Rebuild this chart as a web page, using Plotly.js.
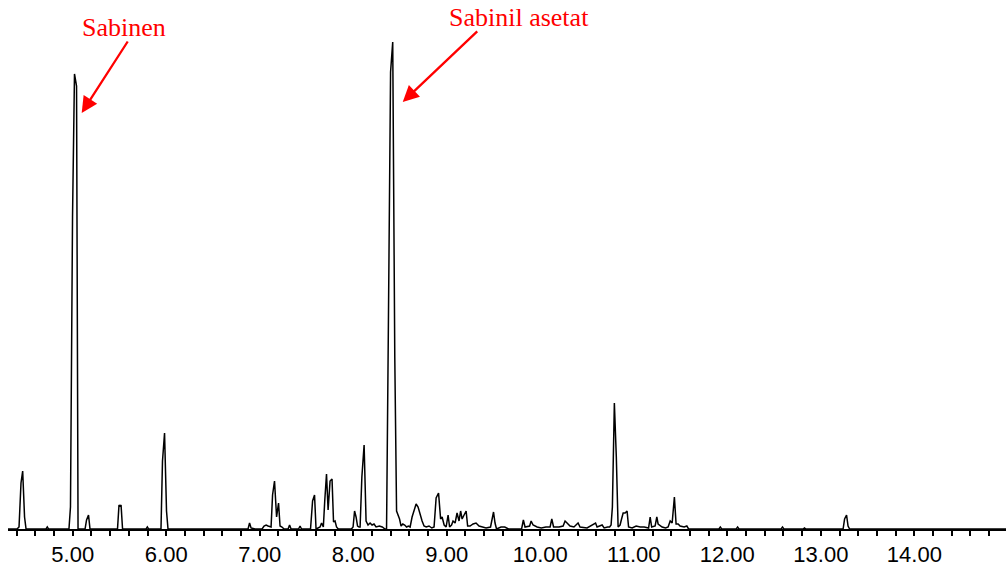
<!DOCTYPE html>
<html>
<head>
<meta charset="utf-8">
<script src="https://cdn.plot.ly/plotly-3.0.1.min.js"></script>
<style>html,body{margin:0;padding:0;background:#fff;}#chart{width:1006px;height:566px;}</style>
</head>
<body>
<div id="chart"></div>
<script>
// Retention time (min)
const retentionTime = [
4.308,4.404,4.426,4.447,4.465,4.485,4.501,4.715,4.728,4.741,
4.960,4.976,4.998,5.019,5.041,5.057,5.132,5.148,5.169,5.185,
5.479,5.495,5.506,5.517,5.533,5.785,5.798,5.811,5.944,5.960,
5.982,6.003,6.019,6.875,6.891,6.907,6.950,7.025,7.046,7.068,
7.089,7.110,7.121,7.137,7.158,7.180,7.201,7.217,7.238,7.260,
7.303,7.319,7.335,7.415,7.431,7.447,7.543,7.565,7.586,7.602,
7.645,7.661,7.680,7.695,7.714,7.731,7.752,7.773,7.789,7.805,
7.821,7.840,7.980,7.998,8.014,8.030,8.046,8.062,8.073,8.092,
8.116,8.137,8.158,8.180,8.201,8.222,8.244,8.280,8.310,8.340,
8.356,8.375,8.399,8.422,8.444,8.463,8.479,8.495,8.511,8.530,
8.550,8.570,8.590,8.608,8.629,8.651,8.672,8.693,8.715,8.736,
8.757,8.780,8.810,8.840,8.864,8.886,8.912,8.934,8.950,8.972,
8.993,9.014,9.030,9.051,9.067,9.089,9.110,9.131,9.148,9.164,
9.185,9.207,9.223,9.249,9.281,9.313,9.345,9.377,9.420,9.468,
9.484,9.500,9.516,9.532,9.580,9.620,9.660,9.800,9.819,9.837,
9.886,9.902,9.923,9.966,10.010,10.060,10.105,10.123,10.142,10.200,
10.244,10.265,10.286,10.318,10.360,10.404,10.425,10.500,10.591,10.607,
10.661,10.683,10.720,10.741,10.757,10.771,10.792,10.813,10.832,10.853,
10.869,10.886,10.907,10.928,10.944,10.982,11.025,11.068,11.111,11.158,
11.175,11.191,11.228,11.246,11.260,11.282,11.303,11.340,11.367,11.389,
11.410,11.434,11.452,11.474,11.495,11.538,11.567,11.586,11.910,11.925,
11.940,12.095,12.110,12.125,12.575,12.590,12.605,12.810,12.825,12.840,
13.238,13.254,13.275,13.291,13.308,14.980
];
// Abundance (arbitrary units)
const abundance = [
0,0,2,46,58,12,0,0,2,0,
0,22,312,455,443,0,0,9,14,0,
0,24,23,24,0,0,2,0,0,68,
96,18,0,0,6,1,0,0,3,4,
3,2,2,34,48,12,26,3,2,0,
0,4,0,0,3,0,0,28,34,0,
2,6,2,28,55,19,48,50,7,8,
2,0,0,2,18,12,3,2,2,52,
84,8,4,6,4,5,2,3,2,0,
0,197,457,487,172,18,14,10,3,5,
4,2,3,2,12,18,25,22,14,8,
3,2,3,1,2,31,36,10,12,4,
2,14,2,4,8,6,16,8,18,10,
14,18,3,3,5,6,3,2,1,2,
12,17,6,0,2,2,0,0,9,2,
3,8,4,2,1,2,2,10,2,2,
3,8,6,3,2,6,2,1,6,2,
4,1,2,2,4,22,126,72,2,4,
10,16,16,18,2,1,3,2,2,1,
12,2,3,12,5,3,2,1,2,8,
6,32,5,5,3,2,3,0,0,2,
0,0,2,0,0,2,0,0,1,0,
0,10,14,3,0,0
];
// Annotations: label, arrow head (time, abundance), tail offset (px), label position
const labels = ["Sabinen", "Sabinil asetat"];
const headTime = [5.096, 8.529];
const headAbund = [416, 427];
const tailDx = [47, 76];
const tailDy = [-73, -72];
const labelTime = [5.549, 9.773];
const labelPaperY = [1.026, 1.045];

const trace = {
  x: retentionTime, y: abundance, type: 'scatter', mode: 'lines',
  line: {color: '#000', width: 1.5}, hoverinfo: 'skip', cliponaxis: false
};

const annotations = [];
for (let i = 0; i < labels.length; i++) {
  annotations.push({
    x: labelTime[i], y: labelPaperY[i], xref: 'x', yref: 'paper',
    text: labels[i], showarrow: false, xanchor: 'center', yanchor: 'middle',
    font: {family: 'Liberation Serif, Times New Roman, serif', size: 26, color: '#ff0000'}
  });
  annotations.push({
    x: headTime[i], y: headAbund[i], xref: 'x', yref: 'y',
    ax: tailDx[i], ay: tailDy[i], axref: 'pixel', ayref: 'pixel',
    text: '', showarrow: true, arrowhead: 2, arrowsize: 1.4, arrowwidth: 2.3,
    arrowcolor: '#ff0000', standoff: 0
  });
}

const layout = {
  width: 1006, height: 566,
  margin: {l: 8, r: 0, t: 40, b: 37, pad: 0},
  paper_bgcolor: '#fff', plot_bgcolor: '#fff',
  showlegend: false,
  xaxis: {
    range: [4.308, 14.98], showgrid: false, zeroline: false,
    showline: true, linecolor: '#000', linewidth: 2,
    ticks: 'outside', ticklen: 5, tickwidth: 2, tickcolor: '#000',
    tick0: 5, dtick: 1, tickformat: '.2f',
    tickfont: {family: 'Liberation Sans, Arial, sans-serif', size: 22, color: '#000'},
    minor: {dtick: 0.2, tick0: 5, ticks: 'outside', ticklen: 5, tickwidth: 2, tickcolor: '#000', showgrid: false}
  },
  yaxis: {range: [0, 489], visible: false, showgrid: false, zeroline: false},
  annotations: annotations
};

Plotly.newPlot('chart', [trace], layout, {displayModeBar: false, staticPlot: true});
</script>
</body>
</html>
